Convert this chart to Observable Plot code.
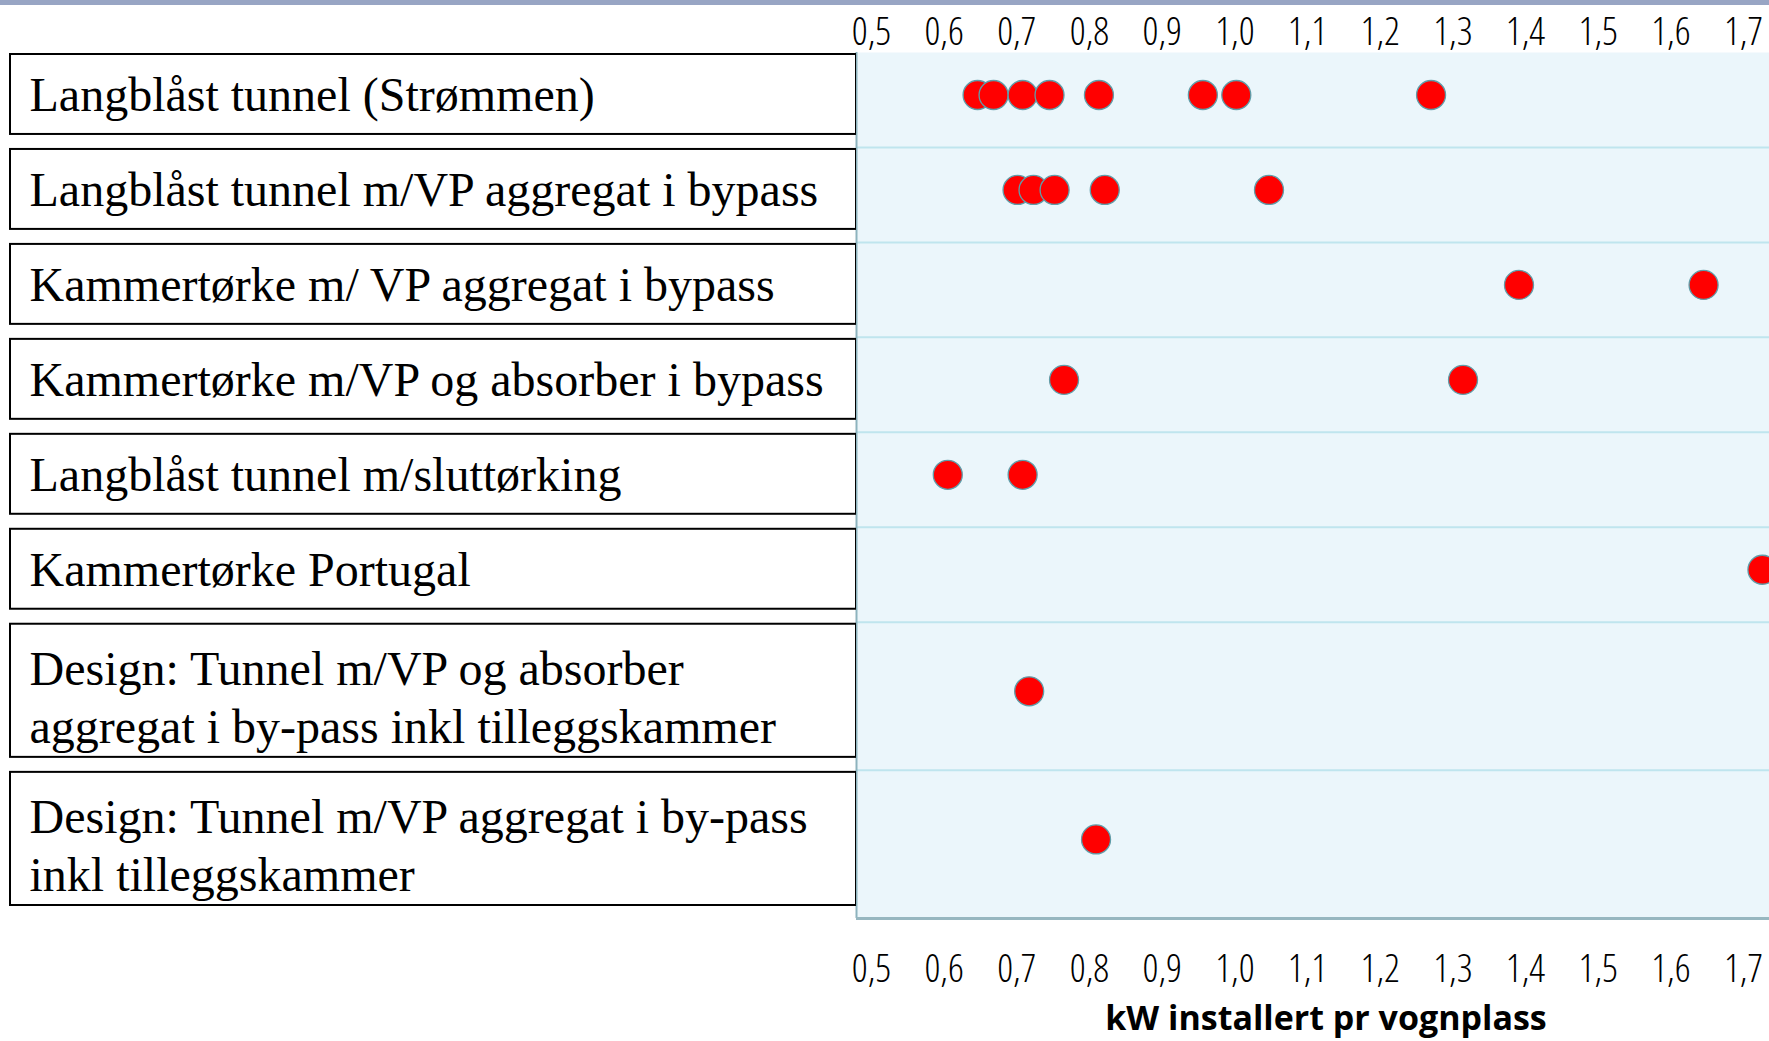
<!DOCTYPE html>
<html>
<head>
<meta charset="utf-8">
<script src="https://cdn.jsdelivr.net/npm/d3@7"></script>
<script src="https://cdn.jsdelivr.net/npm/@observablehq/plot@0.6"></script>
<style>
  html, body { margin: 0; padding: 0; background: #fff; overflow: hidden; }
  #wrap { position: relative; width: 1769px; height: 1041px; }
  #wrap svg { position: absolute; top: 0; left: 0; }
  #topband { position: absolute; top: 0; left: 0; width: 1769px; height: 5px; background: #98A5C4; z-index: 5; }
</style>
</head>
<body>
<div id="wrap"><div id="topband"></div></div>
<script>
// ---------- data ----------
const categories = [
  "Langblåst tunnel (Strømmen)",
  "Langblåst tunnel m/VP aggregat i bypass",
  "Kammertørke m/ VP aggregat i bypass",
  "Kammertørke m/VP og absorber i bypass",
  "Langblåst tunnel m/sluttørking",
  "Kammertørke Portugal",
  "Design: Tunnel m/VP og absorber aggregat i by-pass inkl tilleggskammer",
  "Design: Tunnel m/VP aggregat i by-pass inkl tilleggskammer"
];
const wrappedLabels = [
  "Langblåst tunnel (Strømmen)",
  "Langblåst tunnel m/VP aggregat i bypass",
  "Kammertørke m/ VP aggregat i bypass",
  "Kammertørke m/VP og absorber i bypass",
  "Langblåst tunnel m/sluttørking",
  "Kammertørke Portugal",
  "Design: Tunnel m/VP og absorber\naggregat i by-pass inkl tilleggskammer",
  "Design: Tunnel m/VP aggregat i by-pass\ninkl tilleggskammer"
];
const kwValues = [
  [0.646, 0.668, 0.708, 0.745, 0.813, 0.956, 1.002, 1.270],
  [0.701, 0.723, 0.752, 0.821, 1.047],
  [1.391, 1.645],
  [0.765, 1.314],
  [0.605, 0.708],
  [1.726],
  [0.717],
  [0.809]
];
const xTicks = [0.5, 0.6, 0.7, 0.8, 0.9, 1.0, 1.1, 1.2, 1.3, 1.4, 1.5, 1.6, 1.7];
const axisTitle = "kW installert pr vognplass";

// ---------- layout of rows (taller rows for two-line labels) ----------
let acc = 0;
const rows = categories.map((c, i) => {
  const lines = wrappedLabels[i].split("\n").length;
  const h = lines === 1 ? 1 : 1.56;
  const r = {category: c, label: wrappedLabels[i], lines, top: acc, bottom: acc + h, mid: acc + h / 2};
  acc += h;
  return r;
});
const total = acc;
const boundaries = rows.slice(1).map(r => r.top);
const points = rows.flatMap((r, i) => kwValues[i].map(v => ({category: r.category, value: v, mid: r.mid})));

const W = 1769, H = 1041, splitX = 856, mTop = 52, mBottom = 123;
const xDomain = [0.4794, 1.7357];
const fmt = d => d.toFixed(1).replace(".", ",");
const sansCond = "'Open Sans', 'DejaVu Sans Condensed', sans-serif";

const right = Plot.plot({
  width: W, height: H,
  marginLeft: splitX, marginRight: 0, marginTop: mTop, marginBottom: mBottom,
  style: {fontFamily: sansCond, fontSize: "39px", background: "#fff", fontStretch: "75%", fontWeight: 300},
  x: {domain: xDomain},
  y: {domain: [total, 0], axis: null},
  marks: [
    Plot.frame({fill: "#EBF6FB", stroke: null}),
    Plot.ruleY(boundaries, {stroke: "#BFE5EE", strokeWidth: 2}),
    Plot.ruleX([xDomain[0]], {stroke: "#8DB3BE", strokeWidth: 2}),
    Plot.ruleY([total], {stroke: "#97B7C0", strokeWidth: 3}),
    Plot.dot(points, {x: "value", y: "mid", r: 14.5, fill: "#FF0000", stroke: "#5F9DA9", strokeWidth: 1.3, dy: -5}),
    Plot.axisX({anchor: "top", ticks: xTicks, tickSize: 0, tickPadding: 8, tickFormat: fmt, label: null}),
    Plot.axisX({anchor: "bottom", ticks: xTicks, tickSize: 0, tickPadding: 36, tickFormat: fmt, label: null}),
    Plot.text([axisTitle], {frameAnchor: "bottom", lineAnchor: "middle", dx: 13, dy: 101, fontWeight: 700, fontSize: 34, fontFamily: sansCond})
  ]
});

const left = Plot.plot({
  width: splitX, height: H,
  marginLeft: 0, marginRight: 0, marginTop: mTop, marginBottom: mBottom,
  style: {background: "transparent", fontFamily: "'Liberation Serif', 'Times New Roman', serif", fontSize: "48px"},
  x: {domain: [0, 1], axis: null},
  y: {domain: [total, 0], axis: null},
  marks: [
    Plot.rect(rows, {x1: 0, x2: 1, y1: "top", y2: "bottom", insetTop: 2, insetBottom: 13, insetLeft: 10, fill: "#fff", stroke: "#000", strokeWidth: 2}),
    Plot.text(rows.filter(r => r.lines === 1), {x: 0, y: "mid", text: "label", textAnchor: "start", dx: 29, dy: -8, fontSize: 48, lineHeight: 1.22, fill: "#000"}),
    Plot.text(rows.filter(r => r.lines > 1), {x: 0, y: "mid", text: "label", textAnchor: "start", dx: 29, dy: -1, fontSize: 48, lineHeight: 1.22, fill: "#000"})
  ]
});

const wrap = document.getElementById("wrap");
wrap.appendChild(right);
wrap.appendChild(left);
// the axis title uses normal width
right.querySelectorAll("text").forEach(t => { if (t.textContent === axisTitle) t.style.fontStretch = "100%"; });
</script>
</body>
</html>
